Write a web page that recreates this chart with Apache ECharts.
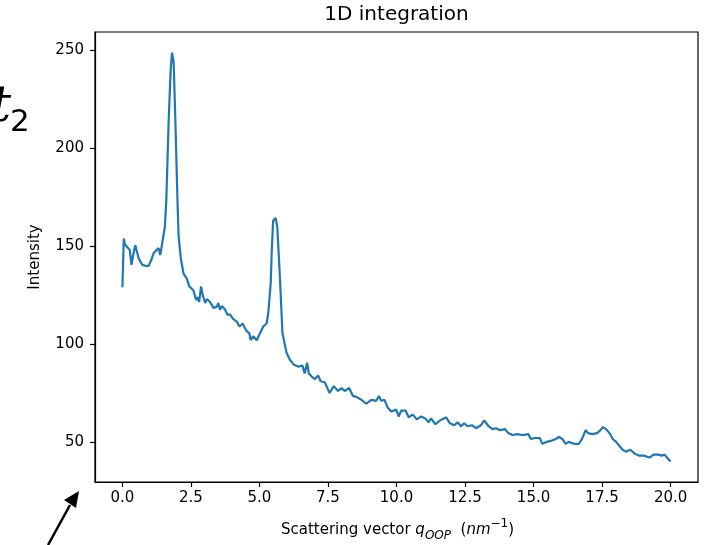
<!DOCTYPE html>
<html>
<head>
<meta charset="utf-8">
<script src="https://cdn.jsdelivr.net/npm/echarts@6/dist/echarts.min.js"></script>
<style>
html,body{margin:0;padding:0;background:#fff;}
#c{width:708px;height:545px;}
</style>
</head>
<body>
<div id="c"></div>
<script>
// Scattering vector q (nm^-1)
const qValues = [0.00,0.05,0.09,0.15,0.27,0.33,0.40,0.47,0.59,0.72,0.84,0.96,1.08,1.14,1.24,1.32,1.38,1.44,1.50,1.55,1.60,1.69,1.76,1.81,1.87,1.93,2.01,2.05,2.13,2.23,2.35,2.44,2.59,2.69,2.74,2.80,2.87,2.93,3.02,3.08,3.20,3.32,3.44,3.50,3.56,3.63,3.75,3.83,3.93,4.03,4.17,4.27,4.39,4.51,4.63,4.68,4.77,4.90,4.96,5.02,5.14,5.26,5.32,5.41,5.45,5.50,5.59,5.65,5.75,5.84,5.99,6.11,6.25,6.41,6.57,6.65,6.74,6.80,6.90,7.02,7.14,7.23,7.38,7.44,7.56,7.71,7.87,7.99,8.11,8.27,8.41,8.53,8.72,8.90,9.08,9.26,9.36,9.44,9.56,9.68,9.81,9.99,10.08,10.17,10.33,10.45,10.59,10.74,10.90,11.05,11.17,11.26,11.42,11.59,11.81,11.95,12.11,12.23,12.35,12.47,12.59,12.75,12.90,13.08,13.20,13.36,13.50,13.63,13.77,13.96,14.08,14.23,14.41,14.59,14.81,14.90,15.05,15.23,15.32,15.47,15.63,15.81,15.93,16.05,16.17,16.29,16.47,16.65,16.77,16.90,16.99,17.14,17.32,17.44,17.53,17.65,17.77,17.89,18.01,18.13,18.25,18.37,18.53,18.69,18.84,19.02,19.23,19.38,19.56,19.67,19.78,19.87,19.93,20.00];
// Intensity
const intensity = [129,154,151,150,148,140.5,146,150.5,144,140.5,140,140,144,146.5,148,149,145.5,150.5,151.5,160,173,215,240,249,244,215,173,155,144,136,133.5,129.5,127.5,122.5,124,121.5,129.5,125,121,123,121.5,118.5,119,121,117.5,119.5,117.5,115,115,113,111.5,109,110.5,107,105.5,102,104,102,102.5,105.5,109,110.5,115.5,131,148,163,164.5,160,133,105.5,95.5,92,89.5,88.5,89,85,90.5,85,83.5,82,84,81,80.5,81,75,78.5,76,77.5,76,77.5,73.5,73,71.5,69.5,71.5,71,73.5,71,71.5,67.5,65.5,66.5,63,66,66,62.5,64,61.5,63,62,60,62,59,61,62.5,59.5,58.5,60,58,59.5,58,58.5,57,58.5,61,58,56.5,57,56,56.5,54.5,53.5,54,53.5,54,51.5,52,52,49,50,50.5,51.5,52.5,51.5,49,50,49,49,51.5,56,54.5,54,54.5,56,57.5,56.5,54.5,51.5,50,48,46,45,46,44,43,43,42,43.5,43.5,43,43.5,42,43,40];
const xTicks = [0, 2.5, 5, 7.5, 10, 12.5, 15, 17.5, 20];
const yTicks = [50, 100, 150, 200, 250];

const FONT = 'DejaVu Sans';
const chart = echarts.init(document.getElementById('c'), null, {renderer: 'canvas'});
const pts = qValues.map((q, i) => [q, intensity[i]]);

chart.setOption({
  animation: false,
  backgroundColor: '#fff',
  grid: {left: 95, right: 10, top: 32, bottom: 63, show: true, borderColor: '#000', borderWidth: 1.2, backgroundColor: 'transparent'},
  xAxis: {
    type: 'value', min: -1, max: 21,
    axisLine: {show: true, onZero: false, lineStyle: {color: '#000', width: 1.2}},
    axisTick: {show: true, customValues: xTicks, length: 5, lineStyle: {color: '#000', width: 1.2}},
    axisLabel: {customValues: xTicks, margin: 9, color: '#000', fontFamily: FONT, fontSize: 15,
      formatter: v => Number(v).toFixed(1)},
    splitLine: {show: false}
  },
  yAxis: {
    type: 'value', min: 29.5, max: 259.5,
    axisLine: {show: true, onZero: false, lineStyle: {color: '#000', width: 1.2}},
    axisTick: {show: true, customValues: yTicks, length: 5, lineStyle: {color: '#000', width: 1.2}},
    axisLabel: {customValues: yTicks, margin: 11, color: '#000', fontFamily: FONT, fontSize: 15},
    splitLine: {show: false}
  },
  series: [{
    type: 'line', data: pts, showSymbol: false, symbol: 'none',
    lineStyle: {color: '#1f77b4', width: 2.2}, clip: true
  }],
  graphic: [
    {type: 'text', x: 396.5, y: 15, style: {text: '1D integration', font: '20px "DejaVu Sans"', fill: '#000', align: 'center', verticalAlign: 'middle'}},
    {type: 'text', x: 35, y: 257, rotation: Math.PI / 2, style: {text: 'Intensity', font: '15px "DejaVu Sans"', fill: '#000', align: 'center', verticalAlign: 'middle'}},
    {type: 'text', x: 397.5, y: 530, style: {
      text: '{n|Scattering vector }{i|q}{sub|OOP}{n|  (}{i|nm}{sup|−1}{n|)}',
      align: 'center', verticalAlign: 'middle', fill: '#000',
      rich: {
        n: {fontFamily: FONT, fontSize: 15, lineHeight: 24, verticalAlign: 'middle', fill: '#000'},
        i: {fontFamily: FONT, fontSize: 15, fontStyle: 'italic', lineHeight: 24, verticalAlign: 'middle', fill: '#000'},
        sub: {fontFamily: FONT, fontSize: 12, fontStyle: 'italic', lineHeight: 24, verticalAlign: 'bottom', fill: '#000'},
        sup: {fontFamily: FONT, fontSize: 12, lineHeight: 24, verticalAlign: 'top', fill: '#000'}
      }
    }},
    {type: 'text', x: -9, y: 108, style: {text: 't', font: 'italic 50px "DejaVu Serif"', fill: '#000', align: 'left', verticalAlign: 'middle'}},
    {type: 'text', x: 10, y: 123, style: {text: '2', font: '31px "DejaVu Sans"', fill: '#000', align: 'left', verticalAlign: 'middle'}},
    {type: 'line', shape: {x1: 48, y1: 545, x2: 70, y2: 505}, style: {stroke: '#000', lineWidth: 2.5}},
    {type: 'polygon', shape: {points: [[79, 491], [64, 500], [76, 508]]}, style: {fill: '#000'}}
  ]
});
</script>
</body>
</html>
